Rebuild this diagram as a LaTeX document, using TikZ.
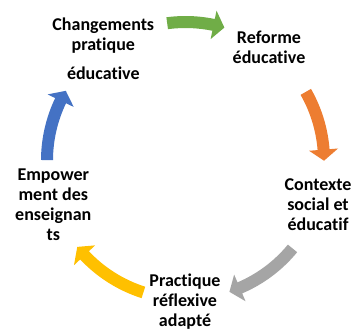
\documentclass[tikz,border=0pt]{standalone}
\usepackage{fontspec}
\setmainfont{Carlito}[Ligatures=NoCommon]
\definecolor{cgreen}{HTML}{70AD47}
\definecolor{corange}{HTML}{ED7D31}
\definecolor{cgray}{HTML}{A5A5A5}
\definecolor{cyellow}{HTML}{FFC000}
\definecolor{cblue}{HTML}{4472C4}
% #1 tail angle, #2 tip angle, #3 colour (clockwise arrow on circle r=138.5)
\newcommand\cycarrow[3]{%
  \fill[#3] (#1:144.5) arc[start angle=#1, end angle={#2+4.6}, radius=144.5]
    -- ({#2+4.6}:153) -- (#2:138.5) -- ({#2+4.6}:124) -- ({#2+4.6}:132.5)
    arc[start angle={#2+4.6}, end angle=#1, radius=132.5] -- cycle;}
\begin{document}
\begin{tikzpicture}[x=1bp,y=1bp,
  lbl/.style={align=center, anchor=base, inner sep=0pt,
    font=\fontsize{18bp}{20bp}\selectfont\bfseries}]
\useasboundingbox (0,0) rectangle (355,329);
\fill[white] (0,0) rectangle (355,329);
\coordinate (C) at (185.5,168.5);
\begin{scope}[shift={(C)}]
  \cycarrow{97.6}{73.7}{cgreen}
  \cycarrow{29.7}{-0.1}{corange}
  \cycarrow{-39.4}{-71.5}{cgray}
  \cycarrow{-107.7}{-141.4}{cyellow}
  \cycarrow{179.8}{149.8}{cblue}
\end{scope}
\node[lbl] (chg) at (103.3,250) {Changements\\pratique\\[9bp]éducative};
\node[lbl] (ref) at (269,265.7) {Reforme\\éducative};
\node[lbl] (ctx) at (318,99) {Contexte\\social et\\éducatif};
\node[lbl] (pra) at (185,3) {Practique\\réflexive\\adapté};
\node[lbl] (emp) at (53.3,89) {Empower\\ment des\\enseignan\\ts};
\end{tikzpicture}
\end{document}
